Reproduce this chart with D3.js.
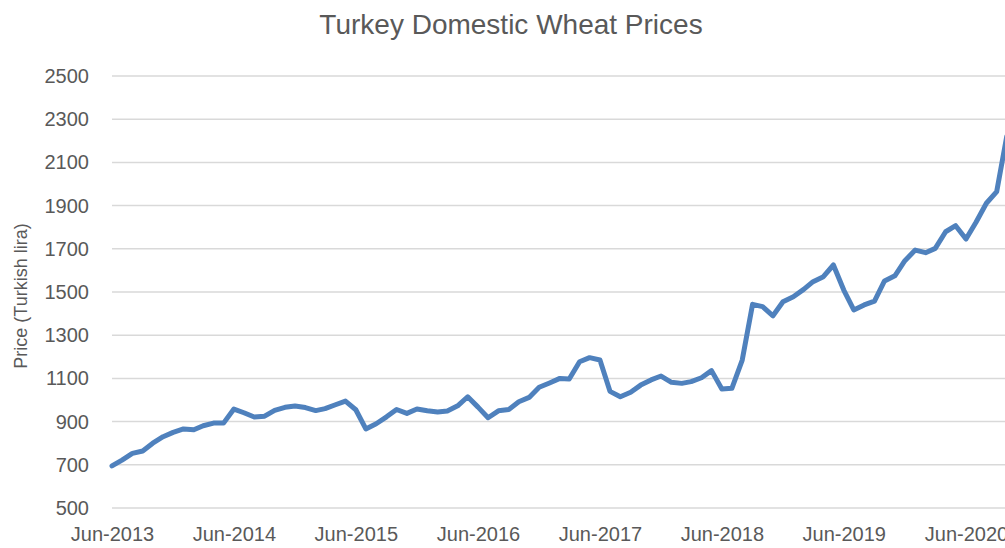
<!DOCTYPE html>
<html>
<head>
<meta charset="utf-8">
<script src="https://cdn.jsdelivr.net/npm/d3@7"></script>
<style>
  body { margin: 0; background: #fff; }
  text { font-family: "Liberation Sans", Arial, sans-serif; fill: #595959; }
</style>
</head>
<body>
<div id="chart"></div>
<script>
// monthly prices, Jun-2013 onwards
var startMonth = "2013-06";
var prices = [
  695, 722, 753, 764, 800, 830, 850,                                  // 2013
  866, 862, 881, 893, 893, 958, 941, 921, 925, 952, 966, 972,         // 2014
  965, 951, 960, 978, 995, 955, 866, 890, 922, 956, 938, 958,         // 2015
  950, 944, 949, 973, 1015, 967, 918, 950, 956, 992, 1012, 1059,      // 2016
  1079, 1100, 1097, 1177, 1196, 1185, 1040, 1015, 1036, 1069, 1093, 1111, // 2017
  1082, 1077, 1085, 1103, 1136, 1051, 1054, 1185, 1443, 1432, 1390, 1455, // 2018
  1478, 1512, 1548, 1571, 1625, 1509, 1417, 1440, 1458, 1551, 1575, 1645, // 2019
  1694, 1682, 1702, 1779, 1807, 1745, 1823, 1911, 1965, 2220          // 2020
];
var xTickLabels = ["Jun-2013", "Jun-2014", "Jun-2015", "Jun-2016",
                   "Jun-2017", "Jun-2018", "Jun-2019", "Jun-2020"];
var yTicks = [500, 700, 900, 1100, 1300, 1500, 1700, 1900, 2100, 2300, 2500];

var width = 1005, height = 548;
var parseMonth = d3.timeParse("%Y-%m");
var parseLabel = d3.timeParse("%b-%Y");

var start = parseMonth(startMonth);
var months = d3.timeMonth.range(start, d3.timeMonth.offset(start, prices.length));
var data = prices.map(function(p, i) { return { date: months[i], price: p }; });

var svg = d3.select("#chart").append("svg")
    .attr("width", width)
    .attr("height", height);

// scales
var x = d3.scaleTime()
    .domain([parseLabel(xTickLabels[0]), parseLabel(xTickLabels[xTickLabels.length - 1])])
    .range([112, 966]);
var y = d3.scaleLinear()
    .domain([500, 2500])
    .range([508, 76]);

// gridlines
svg.append("g")
    .selectAll("line")
    .data(yTicks)
    .enter().append("line")
      .attr("x1", 112)
      .attr("x2", width)
      .attr("y1", function(d) { return y(d); })
      .attr("y2", function(d) { return y(d); })
      .attr("stroke", "#d9d9d9")
      .attr("stroke-width", 1.5);

// y axis labels
var yAxis = svg.append("g")
    .attr("transform", "translate(89,0)")
    .call(d3.axisLeft(y).tickValues(yTicks).tickFormat(d3.format("d")).tickSize(0).tickPadding(0));
yAxis.select(".domain").remove();
yAxis.selectAll("text")
    .style("font-size", "20px")
    .style("fill", "#595959")
    .style("font-family", "'Liberation Sans', Arial, sans-serif");

// x axis labels
var xAxis = svg.append("g")
    .attr("transform", "translate(0,523)")
    .call(d3.axisBottom(x)
      .tickValues(xTickLabels.map(parseLabel))
      .tickFormat(d3.timeFormat("%b-%Y"))
      .tickSize(0).tickPadding(4));
xAxis.select(".domain").remove();
xAxis.selectAll("text")
    .style("font-size", "20px")
    .style("fill", "#595959")
    .style("font-family", "'Liberation Sans', Arial, sans-serif");

// the line
var line = d3.line()
    .x(function(d) { return x(d.date); })
    .y(function(d) { return y(d.price); });

svg.append("path")
    .datum(data)
    .attr("fill", "none")
    .attr("stroke", "#4f81bd")
    .attr("stroke-width", 5)
    .attr("stroke-linejoin", "round")
    .attr("stroke-linecap", "round")
    .attr("d", line);

// title
svg.append("text")
    .attr("x", 511)
    .attr("y", 34)
    .attr("text-anchor", "middle")
    .style("font-size", "28px")
    .text("Turkey Domestic Wheat Prices");

// y axis title
svg.append("text")
    .attr("transform", "translate(27,296) rotate(-90)")
    .attr("text-anchor", "middle")
    .style("font-size", "18px")
    .text("Price (Turkish lira)");
</script>
</body>
</html>
